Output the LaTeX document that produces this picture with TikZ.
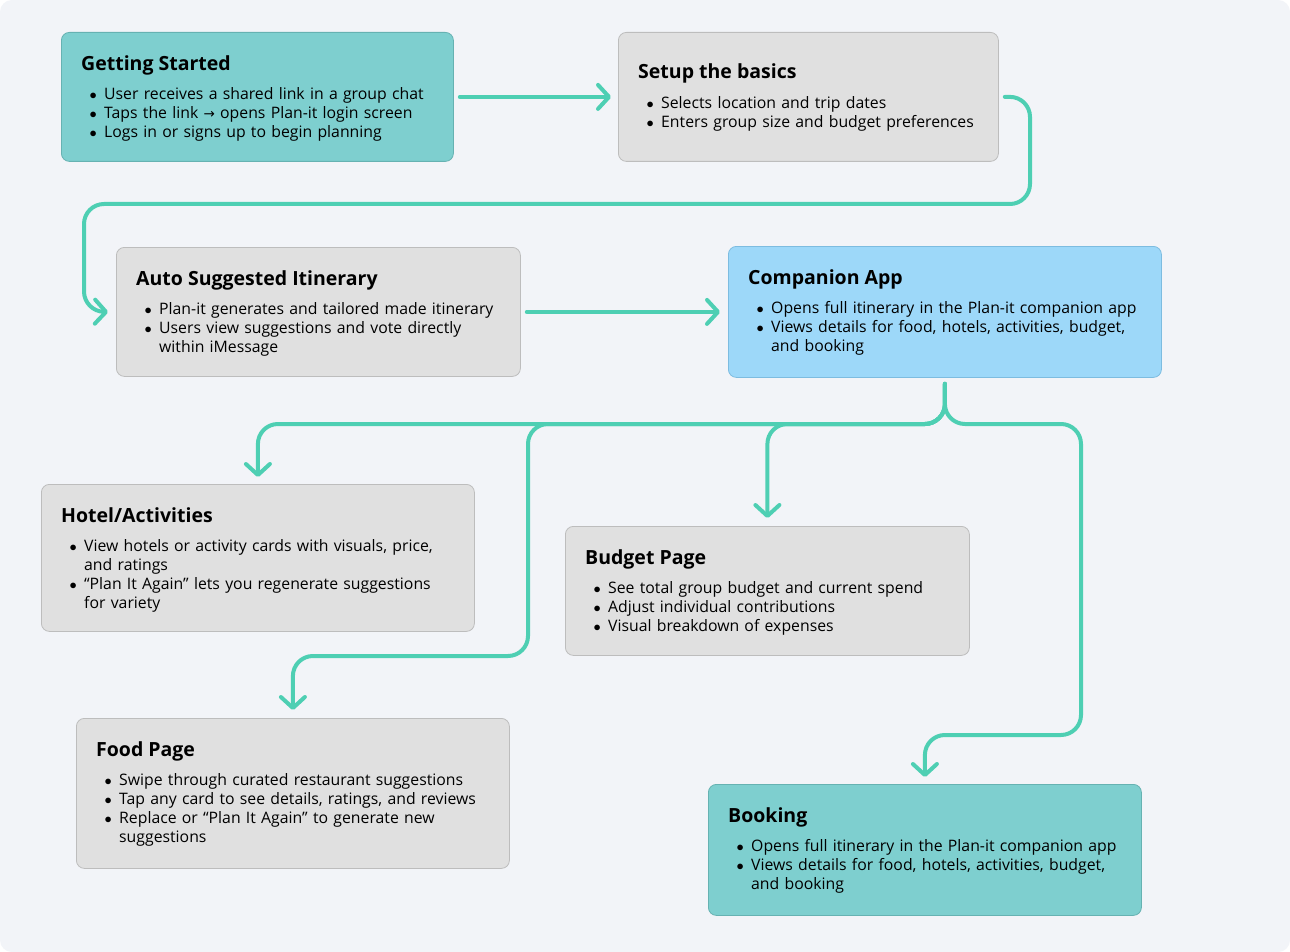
\documentclass[tikz,border=0pt]{standalone}
\usepackage{fontspec}
\setmainfont{Open Sans}
\newfontfamily\arrowfont{DejaVu Sans}
\usetikzlibrary{arrows.meta}

\definecolor{canvas}{HTML}{F2F4F8}
\definecolor{tealcard}{HTML}{7ECFCF}
\definecolor{tealedge}{HTML}{66B2B2}
\definecolor{graycard}{HTML}{E0E0E0}
\definecolor{grayedge}{HTML}{BDBDBD}
\definecolor{bluecard}{HTML}{9DD8F9}
\definecolor{blueedge}{HTML}{7DBCE0}
\definecolor{flowline}{HTML}{4ECFB3}

\newcommand{\bul}{\makebox[14.5pt][l]{$\bullet$}}
\newcommand{\hang}{\hspace*{14.5pt}}
\newcommand{\goesto}{{\arrowfont\fontsize{13.5}{19}\selectfont →}}

\begin{document}
\begin{tikzpicture}[x=1pt,y=-1pt,
    card/.style={draw, rounded corners=8pt, line width=0.8pt, anchor=north west, inner sep=0pt},
    head/.style={anchor=base west, inner sep=0pt, font=\fontsize{19.5}{22}\selectfont\bfseries},
    items/.style={anchor=base west, inner sep=0pt, align=left, text width=440pt, font=\fontsize{15.8}{19}\selectfont},
    flow/.style={draw=flowline, line width=4pt, line cap=round, rounded corners=20pt,
      -{Straight Barb[length=11pt,width=24pt,round]}}]
  \useasboundingbox (0,0) rectangle (1290,952);
  \fill[white] (0,0) rectangle (1290,952);
  \fill[canvas, rounded corners=12pt] (0,0) rectangle (1290,952);

  % cards
  \node[card, fill=tealcard, draw=tealedge, minimum width=392pt, minimum height=129pt] (start) at (61,32) {};
  \node[card, fill=graycard, draw=grayedge, minimum width=380pt, minimum height=129pt] (setup) at (618,32) {};
  \node[card, fill=graycard, draw=grayedge, minimum width=404pt, minimum height=129pt] (itin) at (116,247) {};
  \node[card, fill=bluecard, draw=blueedge, minimum width=433pt, minimum height=131pt] (app) at (728,246) {};
  \node[card, fill=graycard, draw=grayedge, minimum width=433pt, minimum height=147pt] (hotel) at (41,484) {};
  \node[card, fill=graycard, draw=grayedge, minimum width=404pt, minimum height=129pt] (budget) at (565,526) {};
  \node[card, fill=graycard, draw=grayedge, minimum width=433pt, minimum height=150pt] (food) at (76,718) {};
  \node[card, fill=tealcard, draw=tealedge, minimum width=433pt, minimum height=131pt] (booking) at (708,784) {};

  % titles and bullet lines
  \node[head] (start-t) at ([shift={(20,39)}]start.north west) {Getting Started};
  \node[items] (start-l) at ([shift={(28.5,68)}]start.north west)
    {\bul User receives a shared link in a group chat\\
     \bul Taps the link \goesto{} opens Plan-it login screen\\
     \bul Logs in or signs up to begin planning};

  \node[head] (setup-t) at ([shift={(20,47)}]setup.north west) {Setup the basics};
  \node[items] (setup-l) at ([shift={(28.5,77)}]setup.north west)
    {\bul Selects location and trip dates\\
     \bul Enters group size and budget preferences};

  \node[head] (itin-t) at ([shift={(20,38)}]itin.north west) {Auto Suggested Itinerary};
  \node[items] (itin-l) at ([shift={(28.5,67)}]itin.north west)
    {\bul Plan-it generates and tailored made itinerary\\
     \bul Users view suggestions and vote directly\\
     \hang within iMessage};

  \node[head] (app-t) at ([shift={(20,38)}]app.north west) {Companion App};
  \node[items] (app-l) at ([shift={(28.5,67)}]app.north west)
    {\bul Opens full itinerary in the Plan-it companion app\\
     \bul Views details for food, hotels, activities, budget,\\
     \hang and booking};

  \node[head] (hotel-t) at ([shift={(20,38)}]hotel.north west) {Hotel/Activities};
  \node[items] (hotel-l) at ([shift={(28.5,67)}]hotel.north west)
    {\bul View hotels or activity cards with visuals, price,\\
     \hang and ratings\\
     \bul “Plan It Again” lets you regenerate suggestions\\
     \hang for variety};

  \node[head] (budget-t) at ([shift={(20,38)}]budget.north west) {Budget Page};
  \node[items] (budget-l) at ([shift={(28.5,67)}]budget.north west)
    {\bul See total group budget and current spend\\
     \bul Adjust individual contributions\\
     \bul Visual breakdown of expenses};

  \node[head] (food-t) at ([shift={(20,38)}]food.north west) {Food Page};
  \node[items] (food-l) at ([shift={(28.5,67)}]food.north west)
    {\bul Swipe through curated restaurant suggestions\\
     \bul Tap any card to see details, ratings, and reviews\\
     \bul Replace or “Plan It Again” to generate new\\
     \hang suggestions};

  \node[head] (booking-t) at ([shift={(20,38)}]booking.north west) {Booking};
  \node[items] (booking-l) at ([shift={(28.5,67)}]booking.north west)
    {\bul Opens full itinerary in the Plan-it companion app\\
     \bul Views details for food, hotels, activities, budget,\\
     \hang and booking};

  % connectors
  \coordinate (split) at ([yshift=-6pt]app.south);
  \coordinate (row) at (0,424);
  \coordinate (foodrow) at (0,656);
  \coordinate (bookrow) at (0,735);
  \draw[flow] ([xshift=6pt]start.east) -- ([xshift=-7pt]setup.west);
  \draw[flow] ([xshift=6pt]setup.east) -| (1030,204) -| (84,311.5) -- ([xshift=-8pt]itin.west);
  \draw[flow] ([xshift=6pt]itin.east) -- ([xshift=-8pt]app.west);
  \draw[flow] (split) |- (hotel.north |- row) -- ([yshift=7pt]hotel.north);
  \draw[flow] (split) |- (budget.north |- row) -- ([yshift=8pt]budget.north);
  \draw[flow] (split) |- (528,424) |- (food.north |- foodrow) -- ([yshift=8pt]food.north);
  \draw[flow] (split) |- (1081,424) |- (booking.north |- bookrow) -- ([yshift=7pt]booking.north);
\end{tikzpicture}
\end{document}
